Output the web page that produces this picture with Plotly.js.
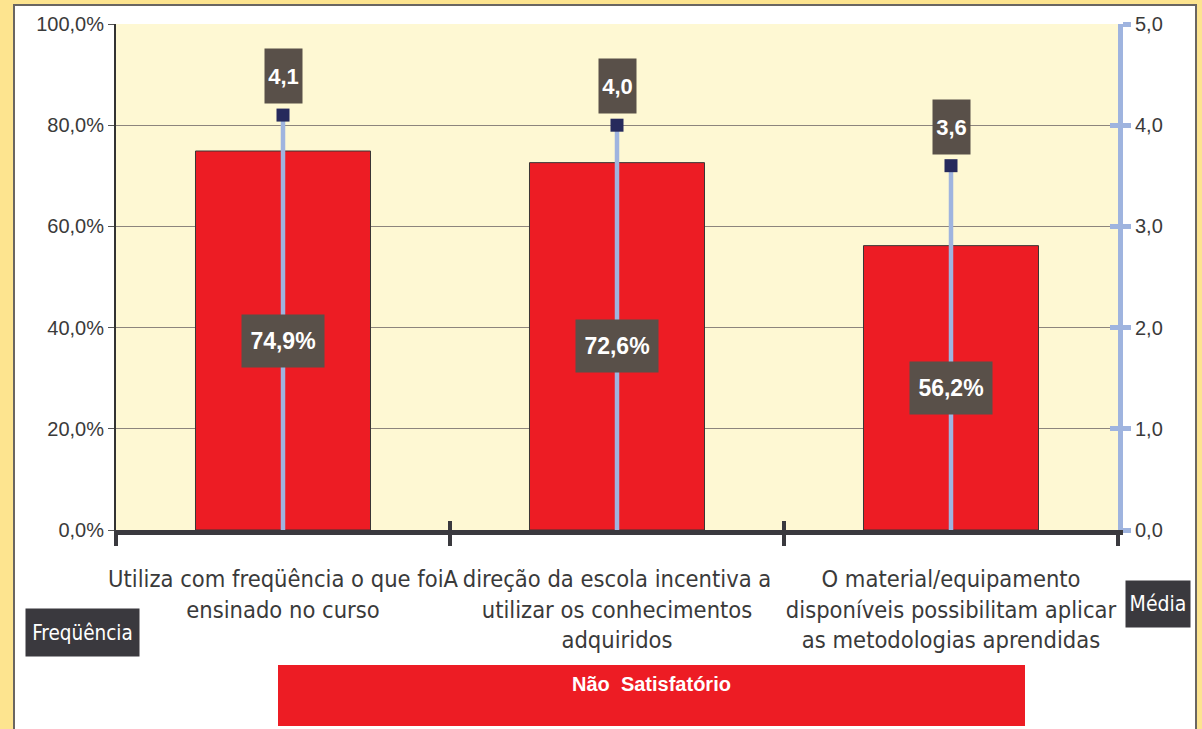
<!DOCTYPE html>
<html>
<head>
<meta charset="utf-8">
<script src="https://cdn.plot.ly/plotly-3.0.1.min.js"></script>
<style>
  html, body { margin: 0; padding: 0; background: #fde48f; width: 1202px; height: 729px; overflow: hidden; }
  #frame { position: absolute; left: 13px; top: 4px; width: 1180px; height: 740px; background: #ffffff; border: 2px solid #6a6662; }
  #chart { position: absolute; left: 0; top: 0; width: 1202px; height: 729px; }
</style>
</head>
<body>
<div id="frame"></div>
<div id="chart"></div>
<script>
// ---- data ----
const categories = [
  "Utiliza com freqüência o que foiA<br>ensinado no curso",
  "direção da escola incentiva a<br>utilizar os conhecimentos<br>adquiridos",
  "O material/equipamento<br>disponíveis possibilitam aplicar<br>as metodologias aprendidas"
];
const freqValues = [0.749, 0.726, 0.562];   // Não Satisfatório (Freqüência)
const mediaValues = [4.1, 4.0, 3.6];        // Média
const seriesName = "Não  Satisfatório";
const leftAxisTitle = "Freqüência";
const rightAxisTitle = "Média";

// ---- styling ----
const COND = '"DejaVu Sans Condensed", "DejaVu Sans", sans-serif';
const ARIAL = '"Liberation Sans", Arial, sans-serif';
const RED = '#ed1c24';
const BLUE = '#9fb4df';
const DARK = '#3a393e';
const LABELBG = '#595049';

const W = 1202, H = 729;
const M = { l: 116, r: 84, t: 24, b: 199 };
const PW = W - M.l - M.r, PH = H - M.t - M.b;
const px = x => (x - M.l) / PW;
const py = y => (H - M.b - y) / PH;

const fmtPct = v => (v * 100).toFixed(1).replace('.', ',') + '%';
const fmtNum = v => v.toFixed(1).replace('.', ',');

const traces = [
  {
    type: 'bar', x: categories, y: freqValues, name: seriesName,
    width: 0.524, marker: { color: RED, line: { color: '#3a3535', width: 1 } },
    hoverinfo: 'skip', showlegend: false
  },
  {
    type: 'scatter', mode: 'markers', x: categories, y: mediaValues, yaxis: 'y2',
    name: rightAxisTitle, showlegend: false, hoverinfo: 'skip',
    marker: { symbol: 'square', size: 13, color: '#262a5c' },
    error_y: { type: 'data', symmetric: false, array: mediaValues.map(() => 0), arrayminus: mediaValues,
               color: BLUE, thickness: 4.5, width: 0 }
  },
  // invisible helper so the overlay axes (inner tick marks) get drawn
  {
    type: 'scatter', mode: 'markers', x: mediaValues.map((_, i) => i), y: mediaValues,
    xaxis: 'x2', yaxis: 'y3', marker: { opacity: 0 }, showlegend: false, hoverinfo: 'skip'
  }
];

const annotations = [];
freqValues.forEach((v, i) => annotations.push({
  x: categories[i], y: v / 2, xref: 'x', yref: 'y', showarrow: false,
  xanchor: 'center', yanchor: 'middle',
  text: '<b>' + fmtPct(v) + '</b>', font: { family: ARIAL, size: 23, color: '#ffffff' },
  bgcolor: LABELBG, width: 74, height: 44, borderpad: 4
}));
mediaValues.forEach((v, i) => annotations.push({
  x: categories[i], y: v, xref: 'x', yref: 'y2', showarrow: false, yshift: 39,
  xanchor: 'center', yanchor: 'middle',
  text: '<b>' + fmtNum(v) + '</b>', font: { family: ARIAL, size: 22, color: '#ffffff' },
  bgcolor: LABELBG, width: 31, height: 48, borderpad: 3
}));
annotations.push({
  xref: 'paper', yref: 'paper', x: px(82.5), y: py(632.5), showarrow: false,
  xanchor: 'center', yanchor: 'middle',
  text: leftAxisTitle, font: { family: COND, size: 20.5, color: '#ffffff' },
  bgcolor: DARK, width: 105, height: 39, borderpad: 4
});
annotations.push({
  xref: 'paper', yref: 'paper', x: px(1158), y: py(604), showarrow: false,
  xanchor: 'center', yanchor: 'middle',
  text: rightAxisTitle, font: { family: COND, size: 21, color: '#ffffff' },
  bgcolor: DARK, width: 56, height: 38, borderpad: 4
});
annotations.push({
  xref: 'paper', yref: 'paper', x: px(651), y: py(684), showarrow: false,
  xanchor: 'center', yanchor: 'middle',
  text: '<b>' + seriesName + '</b>', font: { family: ARIAL, size: 20, color: '#ffffff' }
});

const layout = {
  width: W, height: H,
  margin: M,
  paper_bgcolor: 'rgba(0,0,0,0)',
  plot_bgcolor: '#fef8d3',
  separators: ',.',
  showlegend: false,
  xaxis: {
    type: 'category', tickson: 'boundaries', ticks: 'outside', ticklen: 11, tickwidth: 4, tickcolor: DARK,
    showline: true, linecolor: DARK, linewidth: 5, showgrid: false, tickangle: 0,
    tickfont: { family: COND, size: 23.5, color: '#3a3a3a' }, ticklabelstandoff: 24
  },
  xaxis2: {
    overlaying: 'x', type: 'linear', range: [-0.5, 2.5], tickvals: [-0.5, 0.5, 1.5, 2.5],
    ticks: 'inside', ticklen: 9, tickwidth: 4, tickcolor: DARK, showticklabels: false,
    showgrid: false, zeroline: false, anchor: 'y', side: 'bottom', fixedrange: true
  },
  yaxis: {
    range: [0, 1], dtick: 0.2, tickformat: '.1%', showline: true, linecolor: '#333333', linewidth: 2,
    ticks: 'outside', ticklen: 6, tickcolor: '#555555', gridcolor: '#8d857d', gridwidth: 1.2,
    zeroline: false, tickfont: { family: ARIAL, size: 20, color: '#3a3a3a' }
  },
  yaxis2: {
    overlaying: 'y', side: 'right', range: [0, 5], dtick: 1, tickformat: '.1f',
    showline: true, linecolor: BLUE, linewidth: 5, ticks: 'outside', ticklen: 8, tickwidth: 5, tickcolor: BLUE,
    showgrid: false, zeroline: false, tickfont: { family: ARIAL, size: 20, color: '#3a3a3a' }
  },
  yaxis3: {
    overlaying: 'y', side: 'right', range: [0, 5], dtick: 1, showticklabels: false,
    showline: false, ticks: 'inside', ticklen: 8, tickwidth: 5, tickcolor: BLUE,
    showgrid: false, zeroline: false, anchor: 'x'
  },
  shapes: [
    { type: 'rect', xref: 'paper', yref: 'paper', x0: px(278), x1: px(1025), y0: py(665), y1: py(726),
      fillcolor: RED, line: { width: 0 }, layer: 'below' }
  ],
  annotations: annotations
};

Plotly.newPlot('chart', traces, layout, { staticPlot: true, displayModeBar: false });
</script>
</body>
</html>
